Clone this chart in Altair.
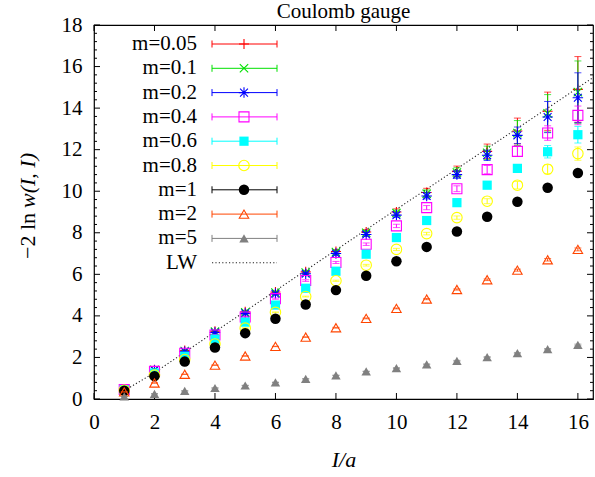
import altair as alt
import pandas as pd

FONT = "Liberation Serif"

# ---------------- data ----------------
TITLE = "Coulomb gauge"
I_vals = list(range(1, 17))
labels = ["m=0.05", "m=0.1", "m=0.2", "m=0.4", "m=0.6", "m=0.8", "m=1", "m=2", "m=5"]
colors = ["#ff0000", "#00e000", "#0000ff", "#ff00ff", "#00ffff", "#ffff00", "#000000", "#ff4500", "#808080"]

y_005 = [0.48, 1.41, 2.33, 3.26, 4.20, 5.15, 6.12, 7.10, 8.04, 9.00, 9.94, 10.96, 11.92, 12.90, 13.85, 14.90]
y_01 = [0.47, 1.40, 2.31, 3.24, 4.17, 5.12, 6.09, 7.07, 8.00, 8.95, 9.88, 10.90, 11.85, 12.80, 13.75, 14.77]
y_02 = [0.46, 1.38, 2.28, 3.20, 4.12, 5.06, 6.03, 7.00, 7.92, 8.85, 9.77, 10.80, 11.73, 12.69, 13.57, 14.50]
y_04 = [0.46, 1.33, 2.20, 3.08, 3.95, 4.83, 5.70, 6.57, 7.45, 8.33, 9.21, 10.12, 11.04, 11.92, 12.80, 13.65]
y_06 = [0.45, 1.25, 2.06, 2.88, 3.70, 4.52, 5.33, 6.15, 6.97, 7.77, 8.59, 9.45, 10.29, 11.10, 11.90, 12.72]
y_08 = [0.42, 1.15, 1.90, 2.65, 3.41, 4.17, 4.93, 5.69, 6.44, 7.20, 7.96, 8.73, 9.52, 10.29, 11.06, 11.81]
y_1 = [0.40, 1.10, 1.80, 2.48, 3.17, 3.86, 4.55, 5.24, 5.93, 6.63, 7.32, 8.06, 8.77, 9.49, 10.17, 10.88]
y_2 = [0.34, 0.77, 1.19, 1.63, 2.07, 2.53, 2.98, 3.43, 3.88, 4.36, 4.81, 5.27, 5.74, 6.20, 6.70, 7.20]
y_5 = [0.12, 0.25, 0.39, 0.53, 0.65, 0.80, 0.97, 1.14, 1.33, 1.49, 1.67, 1.84, 2.02, 2.21, 2.40, 2.60]

e_005 = [0.01, 0.01, 0.02, 0.03, 0.04, 0.05, 0.07, 0.09, 0.12, 0.15, 0.20, 0.25, 0.35, 0.62, 0.92, 1.58]
e_01 = [0.01, 0.01, 0.02, 0.03, 0.04, 0.05, 0.07, 0.09, 0.11, 0.14, 0.18, 0.23, 0.32, 0.60, 0.90, 1.50]
e_02 = [0.01, 0.01, 0.02, 0.02, 0.03, 0.04, 0.05, 0.07, 0.09, 0.11, 0.14, 0.18, 0.25, 0.40, 0.75, 1.20]
e_04 = [0.01, 0.01, 0.01, 0.02, 0.02, 0.03, 0.04, 0.05, 0.06, 0.08, 0.10, 0.14, 0.20, 0.25, 0.35, 0.45]
e_06 = [0.01, 0.01, 0.01, 0.01, 0.02, 0.02, 0.03, 0.04, 0.05, 0.06, 0.08, 0.10, 0.13, 0.18, 0.30, 0.40]
e_08 = [0.01, 0.01, 0.01, 0.01, 0.02, 0.02, 0.02, 0.03, 0.04, 0.05, 0.06, 0.08, 0.12, 0.18, 0.22, 0.32]
e_1 = [0.005, 0.005, 0.01, 0.01, 0.01, 0.01, 0.02, 0.02, 0.02, 0.03, 0.03, 0.04, 0.05, 0.06, 0.08, 0.10]
e_2 = [0.005, 0.005, 0.005, 0.01, 0.01, 0.01, 0.01, 0.02, 0.02, 0.02, 0.03, 0.03, 0.04, 0.05, 0.06, 0.07]
e_5 = [0.005, 0.005, 0.005, 0.005, 0.01, 0.01, 0.01, 0.01, 0.01, 0.02, 0.02, 0.02, 0.02, 0.03, 0.03, 0.04]

lw_x = [1, 2, 3, 4, 5, 6, 7, 8, 9, 10, 11, 12, 13, 14, 15, 16, 16.5]
lw_y = [0.40, 1.27, 2.25, 3.24, 4.22, 5.21, 6.19, 7.17, 8.15, 9.13, 10.10, 11.08, 12.06, 13.03, 14.00, 14.98, 15.47]

x_ticks = [0, 2, 4, 6, 8, 10, 12, 14, 16]
y_ticks = [0, 2, 4, 6, 8, 10, 12, 14, 16, 18]
y_minor = [round(k * 0.4, 2) for k in range(46) if k % 5 != 0]

series_y = [y_005, y_01, y_02, y_04, y_06, y_08, y_1, y_2, y_5]
series_e = [e_005, e_01, e_02, e_04, e_06, e_08, e_1, e_2, e_5]

# ---------------- styles ----------------
PLUS = "M-1,0L1,0M0,-1L0,1"
XCROSS = "M-1,-1L1,1M-1,1L1,-1"
STAR = "M-1,0L1,0M0,-1L0,1M-0.75,-0.75L0.75,0.75M-0.75,0.75L0.75,-0.75"
marker_styles = [
    dict(shape=PLUS, filled=False, size=100),
    dict(shape=XCROSS, filled=False, size=70),
    dict(shape=STAR, filled=False, size=110),
    dict(shape="square", filled=False, size=100),
    dict(shape="square", filled=True, size=85),
    dict(shape="circle", filled=False, size=110),
    dict(shape="circle", filled=True, size=110),
    dict(shape="triangle-up", filled=False, size=90),
    dict(shape="triangle-up", filled=True, size=90),
]

W, H = 499, 374
xs = alt.Scale(domain=[0, 16.5], nice=False, zero=False)
ys = alt.Scale(domain=[0, 18], nice=False, zero=False)

xaxis = alt.Axis(values=x_ticks, ticks=False, domain=False, grid=False,
                 labelFont=FONT, labelFontSize=21, labelColor="black", labelPadding=12,
                 labelFlush=False, title="I/a", titleFont=FONT, titleFontSize=22,
                 titleFontStyle="italic", titleFontWeight="normal", titleColor="black",
                 titlePadding=17)
yaxis = alt.Axis(values=y_ticks, ticks=False, domain=False, grid=False,
                 labelFont=FONT, labelFontSize=21, labelColor="black", labelPadding=12,
                 labelFlush=False, title=None)

X = alt.X("I:Q", scale=xs, axis=xaxis)
Y = alt.Y("v:Q", scale=ys, axis=yaxis)

layers = []

# LW line
lw_df = pd.DataFrame({"I": lw_x, "v": lw_y})
layers.append(alt.Chart(lw_df).mark_line(color="#222222", strokeWidth=1.1, strokeDash=[1.2, 2.2]).encode(x=X, y=Y))

# inward ticks (mirrored on all four sides)
ymaj = pd.DataFrame({"v": y_ticks})
ymin = pd.DataFrame({"v": y_minor})
xmaj = pd.DataFrame({"I": x_ticks})
tick_style = dict(color="black", strokeWidth=1)
layers.append(alt.Chart(ymaj).mark_rule(**tick_style).encode(y=Y, x=alt.value(0), x2=alt.value(6)))
layers.append(alt.Chart(ymaj).mark_rule(**tick_style).encode(y=Y, x=alt.value(W - 6), x2=alt.value(W)))
layers.append(alt.Chart(ymin).mark_rule(**tick_style).encode(y=Y, x=alt.value(0), x2=alt.value(3)))
layers.append(alt.Chart(ymin).mark_rule(**tick_style).encode(y=Y, x=alt.value(W - 3), x2=alt.value(W)))
layers.append(alt.Chart(xmaj).mark_rule(**tick_style).encode(x=X, y=alt.value(H - 6), y2=alt.value(H)))
layers.append(alt.Chart(xmaj).mark_rule(**tick_style).encode(x=X, y=alt.value(0), y2=alt.value(6)))

# data series with error bars
for lab, col, ys_, es_, st in zip(labels, colors, series_y, series_e, marker_styles):
    df = pd.DataFrame({"I": I_vals, "v": ys_, "e": es_})
    df["lo"] = df["v"] - df["e"]
    df["hi"] = df["v"] + df["e"]
    base = alt.Chart(df)
    layers.append(base.mark_rule(color=col, strokeWidth=1).encode(
        x=X, y=alt.Y("lo:Q", scale=ys, axis=yaxis), y2="hi:Q"))
    layers.append(base.mark_tick(color=col, orient="horizontal", size=7, thickness=1).encode(
        x=X, y=alt.Y("lo:Q", scale=ys, axis=yaxis)))
    layers.append(base.mark_tick(color=col, orient="horizontal", size=7, thickness=1).encode(
        x=X, y=alt.Y("hi:Q", scale=ys, axis=yaxis)))
    layers.append(base.mark_point(color=col, opacity=1, strokeWidth=1.1, **st).encode(x=X, y=Y))

# legend (gnuplot style, inside plot)
row0, dy = 19, 24.3
lx_text, lx0, lx1, lxm = 103, 118, 183, 150
for i, (lab, col, st) in enumerate(zip(labels, colors, marker_styles)):
    ry = row0 + i * dy
    ld = alt.Chart(pd.DataFrame({"label": [lab]}))
    layers.append(ld.mark_text(align="right", baseline="middle", font=FONT, fontSize=21, color="black").encode(
        x=alt.value(lx_text), y=alt.value(ry), text="label:N"))
    layers.append(ld.mark_rule(color=col, strokeWidth=1).encode(x=alt.value(lx0), x2=alt.value(lx1), y=alt.value(ry)))
    layers.append(ld.mark_rule(color=col, strokeWidth=1).encode(x=alt.value(lx0), y=alt.value(ry - 3.5), y2=alt.value(ry + 3.5)))
    layers.append(ld.mark_rule(color=col, strokeWidth=1).encode(x=alt.value(lx1), y=alt.value(ry - 3.5), y2=alt.value(ry + 3.5)))
    layers.append(ld.mark_point(color=col, opacity=1, strokeWidth=1.1, **st).encode(x=alt.value(lxm), y=alt.value(ry)))

ry = row0 + 9 * dy
ld = alt.Chart(pd.DataFrame({"label": ["LW"]}))
layers.append(ld.mark_text(align="right", baseline="middle", font=FONT, fontSize=21, color="black").encode(
    x=alt.value(lx_text), y=alt.value(ry), text="label:N"))
layers.append(ld.mark_rule(color="#222222", strokeWidth=1.1, strokeDash=[1.2, 2.2]).encode(
    x=alt.value(lx0), x2=alt.value(lx1), y=alt.value(ry)))

# y-axis title: upright "−2 ln" + italic "w(I, I)"
yt = alt.Chart(pd.DataFrame({"a": ["−2 ln"], "b": ["w(I, I)"]}))
layers.append(yt.mark_text(align="right", baseline="middle", angle=270, font=FONT, fontSize=22, color="black").encode(
    x=alt.value(-66), y=alt.value(188), text="a:N"))
layers.append(yt.mark_text(align="left", baseline="middle", angle=270, font=FONT, fontSize=22, fontStyle="italic", color="black").encode(
    x=alt.value(-66), y=alt.value(183), text="b:N"))

# chart title
tt = alt.Chart(pd.DataFrame({"t": [TITLE]}))
layers.append(tt.mark_text(align="center", baseline="middle", font=FONT, fontSize=21, color="black").encode(
    x=alt.value(W / 2), y=alt.value(-13), text="t:N"))

chart = alt.layer(*layers).properties(
    width=W, height=H,
    autosize=alt.AutoSizeParams(type="none"),
    padding={"left": 94, "top": 25, "right": 2, "bottom": 78},
).configure_view(stroke="black", strokeWidth=1.2)

chart.save("out.html", embed_options={"renderer": "svg", "actions": False})
